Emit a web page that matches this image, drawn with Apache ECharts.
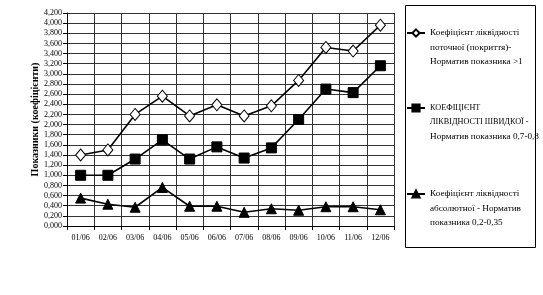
<!DOCTYPE html>
<html><head><meta charset="utf-8">
<script src="https://cdn.jsdelivr.net/npm/echarts@6/dist/echarts.min.js"></script>
<style>html,body{margin:0;padding:0;background:#fff}#c{width:543px;height:295px}</style>
</head><body><div id="c"></div>
<script>
var categories = ['01/06','02/06','03/06','04/06','05/06','06/06','07/06','08/06','09/06','10/06','11/06','12/06'];
var currentRatio = [1.40,1.50,2.20,2.56,2.17,2.39,2.17,2.37,2.87,3.52,3.45,3.96];
var quickRatio = [1.00,1.00,1.32,1.70,1.32,1.56,1.34,1.54,2.10,2.70,2.63,3.16];
var absoluteRatio = [0.55,0.43,0.37,0.76,0.39,0.39,0.27,0.34,0.31,0.38,0.38,0.32];
var names = [
  'Коефіцієнт ліквідності\nпоточної (покриття)-\nНорматив показника >1',
  'КОЕФІЦІЄНТ\nЛІКВІДНОСТІ ШВИДКОЇ -\nНорматив показника 0,7-0,8',
  'Коефіцієнт ліквідності\nабсолютної - Норматив\nпоказника 0,2-0,35'
];
var yAxisName = 'Показники (коефіцієнти)';
var FONT = '"Liberation Serif", "DejaVu Serif", serif';
var LH = 14.3;
var chart = echarts.init(document.getElementById('c'), null, {renderer:'canvas'});
function mk(name, data, symbol, size, fill) {
  return {
    name: name, type: 'line', data: data, symbol: symbol, symbolSize: size,
    showAllSymbol: true, animation: false,
    lineStyle: {color: '#000', width: 1.6},
    itemStyle: {color: fill, borderColor: '#000', borderWidth: 1}
  };
}
function lg(i, iconY) {
  return {
    orient: 'vertical', left: 406, top: iconY - 2.5 * LH, padding: 0,
    itemWidth: 18, itemHeight: 9, itemGap: 2,
    data: [names[i]],
    formatter: function(n){
      return '{n| }\n{n| }\n' + n.split('\n').map(function(s){
        return (s === s.toUpperCase() && /[А-ЯІЄЇ]{3}/.test(s)) ? '{c|' + s + '}' : '{n|' + s + '}';
      }).join('\n');
    },
    textStyle: {fontFamily: FONT, fontSize: 9.2, color: '#000', lineHeight: LH,
      rich: {
        n: {fontFamily: FONT, fontSize: 9.2, color: '#000', lineHeight: LH},
        c: {fontFamily: FONT, fontSize: 8.2, color: '#000', lineHeight: LH}
      }}
  };
}
chart.setOption({
  backgroundColor: '#fff',
  animation: false,
  graphic: [{type:'rect', shape:{x:405.5, y:5.5, width:130, height:242}, style:{fill:'none', stroke:'#000', lineWidth:1}}],
  grid: {left: 67, top: 13, width: 327, height: 213, containLabel: false},
  legend: [lg(0, 33), lg(1, 108), lg(2, 194)],
  xAxis: {
    type: 'category', data: categories, boundaryGap: true,
    axisLine: {lineStyle: {color: '#000', width: 1}},
    axisTick: {show: true, alignWithLabel: false, length: 4, lineStyle: {color:'#000'}},
    axisLabel: {fontFamily: FONT, fontSize: 8, color: '#000', margin: 8, interval: 0},
    splitLine: {show: true, interval: 0, lineStyle: {color: '#333', width: 1}}
  },
  yAxis: {
    type: 'value', min: 0, max: 4.2, interval: 0.2,
    name: yAxisName, nameLocation: 'middle', nameGap: 27, nameMoveOverlap: false,
    nameTextStyle: {fontFamily: FONT, fontSize: 10, fontWeight: 'bold', color: '#000'},
    axisLine: {show: true, lineStyle: {color: '#000', width: 1}},
    axisTick: {show: true, length: 4, lineStyle: {color: '#000'}},
    axisLabel: {fontFamily: FONT, fontSize: 8, color: '#000', margin: 5,
      formatter: function(v){ return v.toFixed(3).replace('.', ','); }},
    splitLine: {show: true, lineStyle: {color: '#333', width: 1}}
  },
  series: [
    mk(names[0], currentRatio, 'diamond', [10, 12], '#fff'),
    mk(names[1], quickRatio, 'rect', 10, '#000'),
    mk(names[2], absoluteRatio, 'triangle', 10, '#000')
  ]
});
</script></body></html>
